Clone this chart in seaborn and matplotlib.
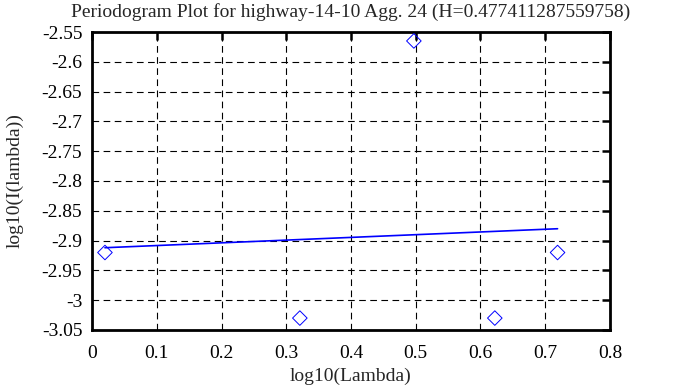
import numpy as np
import pandas as pd
import matplotlib
matplotlib.use("Agg")
import matplotlib.pyplot as plt
import seaborn as sns

# log10 of frequency and log10 of periodogram
log_lambda = [0.0200, 0.3210, 0.4971, 0.6221, 0.7190]
log_I = [-2.920, -3.030, -2.565, -3.030, -2.920]
title = "Periodogram Plot for highway-14-10 Agg. 24 (H=0.477411287559758)"

sns.set_style("white")
plt.rcParams["font.family"] = ["Liberation Serif", "DejaVu Serif"]

df = pd.DataFrame({"x": log_lambda, "y": log_I})
slope, intercept = np.polyfit(df["x"], df["y"], 1)
fit = pd.DataFrame({"x": [df["x"].min(), df["x"].max()]})
fit["y"] = intercept + slope * fit["x"]

fig = plt.figure(figsize=(6.78, 3.87), dpi=100)
ax = fig.add_axes([0.1357, 0.1473, 0.764, 0.770])

sns.scatterplot(data=df, x="x", y="y", ax=ax, marker="D", s=55,
                facecolor="none", edgecolor="blue", linewidth=0.7, zorder=3)
sns.lineplot(data=fit, x="x", y="y", ax=ax, color="blue", linewidth=1.2, zorder=3)

ax.set_xlim(0, 0.8)
ax.set_ylim(-3.05, -2.55)
ax.set_xticks(np.arange(0, 0.81, 0.1))
ax.set_yticks(np.arange(-3.05, -2.549, 0.05))
ax.set_xticklabels(["0", "0.1", "0.2", "0.3", "0.4", "0.5", "0.6", "0.7", "0.8"])
ax.set_yticklabels(["-3.05", "-3", "-2.95", "-2.9", "-2.85", "-2.8", "-2.75",
                    "-2.7", "-2.65", "-2.6", "-2.55"])
ax.grid(True, color="black", linestyle=(0, (6, 4)), linewidth=0.8)
ax.tick_params(axis="x", pad=11)
ax.tick_params(axis="y", pad=7)
ax.tick_params(direction="in", length=6, width=1.8, top=True, right=True,
               labelsize=14, colors="black")
for s in ax.spines.values():
    s.set_linewidth(2)
    s.set_color("black")

ax.set_xlabel("log10(Lambda)", fontsize=14, labelpad=4)
ax.set_ylabel("log10(I(lambda))", fontsize=14, labelpad=13)
ax.set_title(title, fontsize=14, pad=11)

fig.savefig("out.png", dpi=100)
